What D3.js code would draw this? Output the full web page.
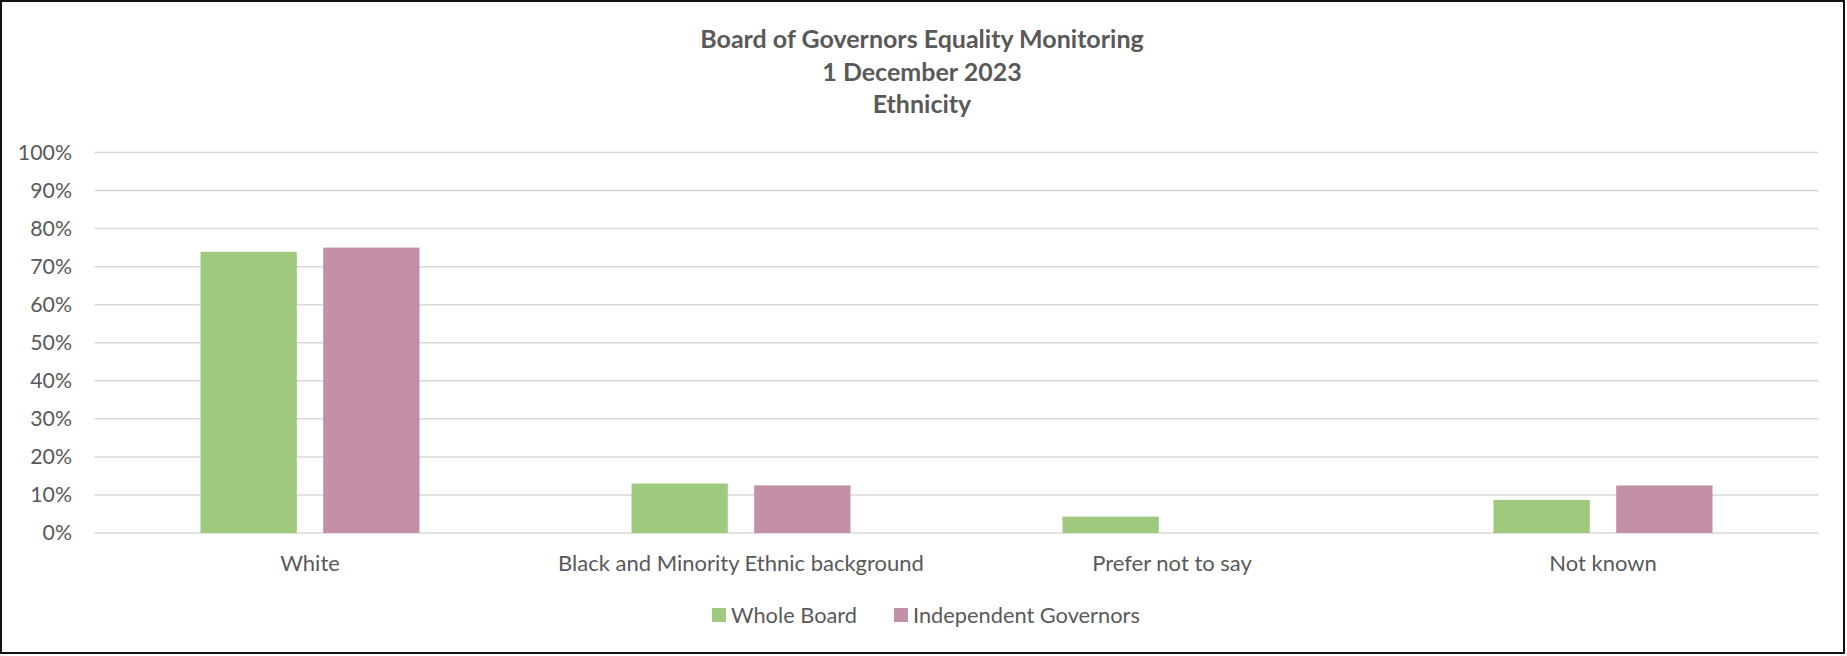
<!DOCTYPE html>
<html>
<head>
<meta charset="utf-8">
<script src="https://cdn.jsdelivr.net/npm/d3@7"></script>
<style>
  body { margin: 0; background: #fff; }
  svg { display: block; font-family: Lato, "Open Sans", sans-serif; }
</style>
</head>
<body>
<svg id="chart" width="1847" height="656"></svg>
<script>
// chart data
const categories = ["White", "Black and Minority Ethnic background", "Prefer not to say", "Not known"];
const seriesNames = ["Whole Board", "Independent Governors"];
const wholeBoard = [73.9, 13.0, 4.3, 8.7];
const independentGovernors = [75.0, 12.5, 0, 12.5];
const yTicks = [0, 10, 20, 30, 40, 50, 60, 70, 80, 90, 100];
const titleLines = ["Board of Governors Equality Monitoring", "1 December 2023", "Ethnicity"];

const colors = { "Whole Board": "#A0C980", "Independent Governors": "#C490A7" };
const textColor = "#595959";

const svg = d3.select("#chart");
const plot = { left: 94.5, right: 1818.5, top: 152.5, bottom: 533 };

// outer frame
svg.append("rect")
  .attr("x", 1).attr("y", 1)
  .attr("width", 1843).attr("height", 652)
  .attr("fill", "#fff").attr("stroke", "#111").attr("stroke-width", 2);

// title
svg.append("g").selectAll("text")
  .data(titleLines)
  .join("text")
  .attr("x", 922)
  .attr("y", (d, i) => 48 + i * 32.5)
  .attr("text-anchor", "middle")
  .attr("font-weight", "bold")
  .attr("font-size", 25)
  .attr("fill", textColor)
  .text(d => d);

// scales
const x0 = d3.scaleBand().domain(categories).range([plot.left, plot.right]).paddingInner(0).paddingOuter(0);
const groupW = 219;
const x1 = d3.scaleBand().domain(seriesNames)
  .range([(x0.bandwidth() - groupW) / 2, (x0.bandwidth() + groupW) / 2])
  .paddingInner(0.215).paddingOuter(0);
const y = d3.scaleLinear().domain([0, 100]).range([plot.bottom, plot.top]);

// gridlines
svg.append("g").selectAll("line")
  .data(yTicks)
  .join("line")
  .attr("x1", plot.left).attr("x2", plot.right)
  .attr("y1", d => y(d)).attr("y2", d => y(d))
  .attr("stroke", "#D9D9D9").attr("stroke-width", 1.5);

// y axis labels
const yAxis = d3.axisLeft(y).tickValues(yTicks).tickFormat(d => d + "%").tickSize(0).tickPadding(0);
const yg = svg.append("g").attr("transform", `translate(72,0)`).call(yAxis);
yg.select(".domain").remove();
yg.selectAll("text").attr("font-size", 21.3).attr("fill", textColor).attr("font-family", "Lato, 'Open Sans', sans-serif");

// bars
const rows = categories.map((c, i) => ({
  category: c,
  values: [
    { series: seriesNames[0], value: wholeBoard[i] },
    { series: seriesNames[1], value: independentGovernors[i] }
  ]
}));

const groups = svg.append("g").selectAll("g")
  .data(rows)
  .join("g")
  .attr("transform", d => `translate(${x0(d.category)},0)`);

groups.selectAll("rect")
  .data(d => d.values.filter(v => v.value > 0))
  .join("rect")
  .attr("x", d => x1(d.series))
  .attr("width", x1.bandwidth())
  .attr("y", d => y(d.value))
  .attr("height", d => y(0) - y(d.value))
  .attr("fill", d => colors[d.series]);

// x axis labels
const xAxis = d3.axisBottom(x0).tickSize(0).tickPadding(0);
const xg = svg.append("g").attr("transform", `translate(0,555)`).call(xAxis);
xg.select(".domain").remove();
xg.selectAll("text").attr("font-size", 22).attr("fill", textColor).attr("font-family", "Lato, 'Open Sans', sans-serif");

// legend
const legend = svg.append("g").attr("transform", "translate(0,615)");
const legendItems = [
  { name: seriesNames[0], x: 712 },
  { name: seriesNames[1], x: 894 }
];
const li = legend.selectAll("g").data(legendItems).join("g")
  .attr("transform", d => `translate(${d.x},0)`);
li.append("rect")
  .attr("x", 0).attr("y", -7)
  .attr("width", 14).attr("height", 14)
  .attr("fill", d => colors[d.name]);
li.append("text")
  .attr("x", 19).attr("y", 0)
  .attr("dy", "0.35em")
  .attr("font-size", 21.8)
  .attr("fill", textColor)
  .text(d => d.name);
</script>
</body>
</html>
